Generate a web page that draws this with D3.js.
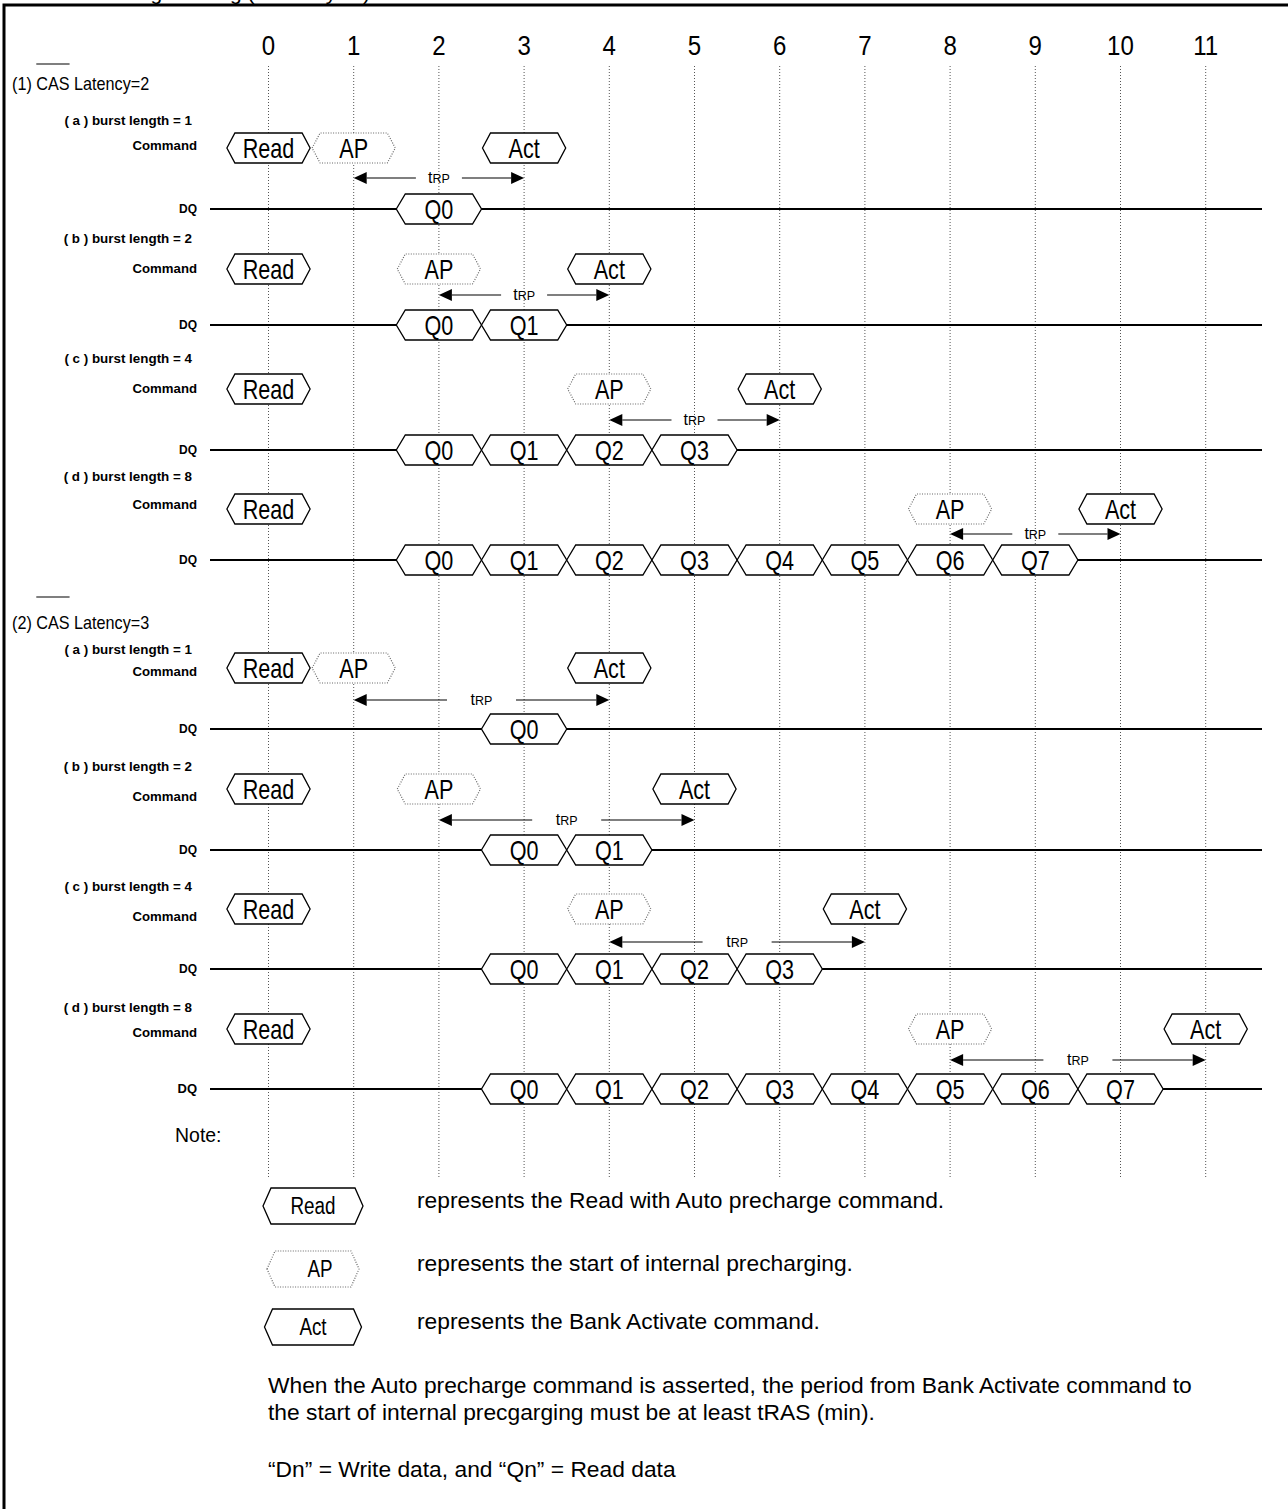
<!DOCTYPE html>
<html>
<head>
<meta charset="utf-8">
<title>Auto Precharge Timing (Read Cycle)</title>
<script src="https://cdn.jsdelivr.net/npm/d3@7"></script>
<style>
  html, body { margin: 0; padding: 0; background: #fff; }
  svg { display: block; font-family: "Liberation Sans", Arial, sans-serif; }
  .grid { stroke: #555; stroke-width: 1; stroke-dasharray: 1,2; }
  .box { fill: #fff; stroke: #000; stroke-width: 1.3; }
  .box.ap { stroke: #666; stroke-width: 1.2; stroke-dasharray: 1,1.5; }
  .bus { stroke: #000; stroke-width: 2; fill: none; }
  .arrow { stroke: #000; stroke-width: 1.2; }
  .head { fill: #000; stroke: none; }
  .frame { stroke: #000; stroke-width: 3; fill: none; }
  .lbl { font-weight: bold; }
</style>
</head>
<body>
<div id="chart"></div>
<script>
// ---- data ----
var colLabels = ["0", "1", "2", "3", "4", "5", "6", "7", "8", "9", "10", "11"];
var sectionTitles = [["(1) ", "CAS", " Latency=2"], ["(2) ", "CAS", " Latency=3"]];
var rowLabels = ["( a ) burst length = 1", "( b ) burst length = 2",
                 "( c ) burst length = 4", "( d ) burst length = 8"];

// commands: [name, clock]
var cmdCL2 = [
  [["Read", 0], ["AP", 1], ["Act", 3]],
  [["Read", 0], ["AP", 2], ["Act", 4]],
  [["Read", 0], ["AP", 4], ["Act", 6]],
  [["Read", 0], ["AP", 8], ["Act", 10]]
];
var cmdCL3 = [
  [["Read", 0], ["AP", 1], ["Act", 4]],
  [["Read", 0], ["AP", 2], ["Act", 5]],
  [["Read", 0], ["AP", 4], ["Act", 7]],
  [["Read", 0], ["AP", 8], ["Act", 11]]
];
// read data: [name, clock]
var dqCL2 = [
  [["Q0", 2]],
  [["Q0", 2], ["Q1", 3]],
  [["Q0", 2], ["Q1", 3], ["Q2", 4], ["Q3", 5]],
  [["Q0", 2], ["Q1", 3], ["Q2", 4], ["Q3", 5], ["Q4", 6], ["Q5", 7], ["Q6", 8], ["Q7", 9]]
];
var dqCL3 = [
  [["Q0", 3]],
  [["Q0", 3], ["Q1", 4]],
  [["Q0", 3], ["Q1", 4], ["Q2", 5], ["Q3", 6]],
  [["Q0", 3], ["Q1", 4], ["Q2", 5], ["Q3", 6], ["Q4", 7], ["Q5", 8], ["Q6", 9], ["Q7", 10]]
];
// tRP: [from clock, to clock]
var trpCL2 = [[1, 3], [2, 4], [4, 6], [8, 10]];
var trpCL3 = [[1, 4], [2, 5], [4, 7], [8, 11]];

var legendItems = [
  ["Read", "represents the Read with Auto precharge command."],
  ["AP", "represents the start of internal precharging."],
  ["Act", "represents the Bank Activate command."]
];
var noteLines = [
  "When the Auto precharge command is asserted, the period from Bank Activate command to",
  "the start of internal precgarging must be at least tRAS (min).",
  "\u201cDn\u201d = Write data, and \u201cQn\u201d = Read data"
];

// ---- layout ----
var width = 1288, height = 1509;
var secLayout = [
  { title: 90, bar: 64,
    rows: [ {lab: 125, cmd: 150, box: 148, trp: 178, dq: 209},
            {lab: 243, cmd: 273, box: 269, trp: 295, dq: 325},
            {lab: 363, cmd: 393, box: 389, trp: 420, dq: 450},
            {lab: 481, cmd: 509, box: 509, trp: 534, dq: 560} ] },
  { title: 629, bar: 597,
    rows: [ {lab: 654, cmd: 676, box: 668, trp: 700, dq: 729},
            {lab: 771, cmd: 801, box: 789, trp: 820, dq: 850},
            {lab: 891, cmd: 921, box: 909, trp: 942, dq: 969},
            {lab: 1012, cmd: 1037, box: 1029, trp: 1060, dq: 1089} ] }
];

var svg = d3.select("#chart").append("svg")
            .attr("width", width)
            .attr("height", height);

var x = d3.scaleLinear().domain([0, 11]).range([268.5, 1205.7]);

// condensed text helper
function ctext(g, px, py, str, size, sx, anchor) {
  return g.append("text")
          .attr("transform", "translate(" + px + "," + py + ") scale(" + sx + ",1)")
          .attr("font-size", size)
          .attr("text-anchor", anchor || "middle")
          .text(str);
}

function hexPath(x0, x1, yc, h, inset) {
  return "M" + x0 + "," + yc +
         "L" + (x0 + inset) + "," + (yc - h / 2) +
         "L" + (x1 - inset) + "," + (yc - h / 2) +
         "L" + x1 + "," + yc +
         "L" + (x1 - inset) + "," + (yc + h / 2) +
         "L" + (x0 + inset) + "," + (yc + h / 2) + "Z";
}

// heading, cut off by the top of the page
ctext(svg, 28, 0, "Auto Precharge Timing (Read Cycle)", 21, 1, "start");

svg.append("path").attr("class", "frame")
   .attr("d", "M4," + height + "L4,5L" + width + ",5");

// clock numbers + dotted guides
colLabels.forEach(function(d, i) {
  ctext(svg, x(i), 55, d, 28, 0.86);
});
svg.selectAll(".grid").data(colLabels).enter().append("line")
   .attr("class", "grid")
   .attr("x1", function(d, i) { return x(i); })
   .attr("x2", function(d, i) { return x(i); })
   .attr("y1", 66).attr("y2", 1177);

var cmds = [cmdCL2, cmdCL3], dqs = [dqCL2, dqCL3], trps = [trpCL2, trpCL3];

secLayout.forEach(function(sec, s) {
  var g = svg.append("g");

  // section title, CAS with bar
  var t = ctext(g, 12, sec.title, "", 18, 0.9, "start");
  sectionTitles[s].forEach(function(part) { t.append("tspan").text(part); });
  var pre = t.node().getSubStringLength(0, sectionTitles[s][0].length) * 0.9;
  var cas = t.node().getSubStringLength(sectionTitles[s][0].length, 3) * 0.9;
  g.append("line").attr("class", "arrow")
   .attr("x1", 12 + pre).attr("x2", 12 + pre + cas)
   .attr("y1", sec.bar).attr("y2", sec.bar);

  sec.rows.forEach(function(r, i) {
    ctext(g, 192, r.lab, rowLabels[i], 13.4, 1, "end").attr("class", "lbl");
    ctext(g, 197, r.cmd, "Command", 13.2, 1, "end").attr("class", "lbl");
    ctext(g, 197, r.dq + 4, "DQ", (s == 1 && i == 3) ? 13 : 12, 1, "end").attr("class", "lbl");

    // DQ bus
    g.append("line").attr("class", "bus")
     .attr("x1", 210).attr("x2", 1262)
     .attr("y1", r.dq).attr("y2", r.dq);

    g.selectAll(null).data(dqs[s][i]).enter().append("path")
     .attr("class", "box")
     .attr("d", function(d) { return hexPath(x(d[1] - 0.5), x(d[1] + 0.5), r.dq, 30, 9); });
    dqs[s][i].forEach(function(d) {
      ctext(g, x(d[1]), r.dq + 9.5, d[0], 27, 0.8);
    });

    // commands
    g.selectAll(null).data(cmds[s][i]).enter().append("path")
     .attr("class", function(d) { return d[0] == "AP" ? "box ap" : "box"; })
     .attr("d", function(d) { return hexPath(x(d[1] - 0.5) + 1, x(d[1] + 0.5) - 1, r.box, 30, 8); });
    cmds[s][i].forEach(function(d) {
      ctext(g, x(d[1]), r.box + 9.5, d[0], 27, 0.8);
    });

    // tRP arrow
    var a = x(trps[s][i][0]), b = x(trps[s][i][1]),
        mid = (a + b) / 2, gap = (b - a) * 0.27, hl = 13, hw = 6;
    g.append("line").attr("class", "arrow")
     .attr("x1", a + hl).attr("x2", mid - gap / 2).attr("y1", r.trp).attr("y2", r.trp);
    g.append("line").attr("class", "arrow")
     .attr("x1", mid + gap / 2).attr("x2", b - hl).attr("y1", r.trp).attr("y2", r.trp);
    g.append("path").attr("class", "head")
     .attr("d", "M" + a + "," + r.trp + "L" + (a + hl) + "," + (r.trp - hw) + "L" + (a + hl) + "," + (r.trp + hw) + "Z");
    g.append("path").attr("class", "head")
     .attr("d", "M" + b + "," + r.trp + "L" + (b - hl) + "," + (r.trp - hw) + "L" + (b - hl) + "," + (r.trp + hw) + "Z");
    var tt = g.append("text").attr("x", mid).attr("y", r.trp + 5)
              .attr("text-anchor", "middle");
    tt.append("tspan").attr("font-size", 16).text("t");
    tt.append("tspan").attr("font-size", 12.5).text("RP");
  });
});

// note + legend
ctext(svg, 175, 1142, "Note:", 20.5, 0.95, "start");

var legY = [1206, 1269, 1327], legW = [100, 92, 97];
legendItems.forEach(function(d, i) {
  var cx = 313;
  svg.append("path")
     .attr("class", d[0] == "AP" ? "box ap" : "box")
     .attr("d", hexPath(cx - legW[i] / 2, cx + legW[i] / 2, legY[i], 36, 8));
  ctext(svg, cx + (d[0] == "AP" ? 7 : 0), legY[i] + 8, d[0], 23, 0.82);
  ctext(svg, 417, legY[i] + 2, d[1], 22.8, 1, "start");
});

var noteY = [1393, 1420, 1477];
noteLines.forEach(function(d, i) {
  ctext(svg, 268, noteY[i], d, 22.8, 1, "start");
});
</script>
</body>
</html>
